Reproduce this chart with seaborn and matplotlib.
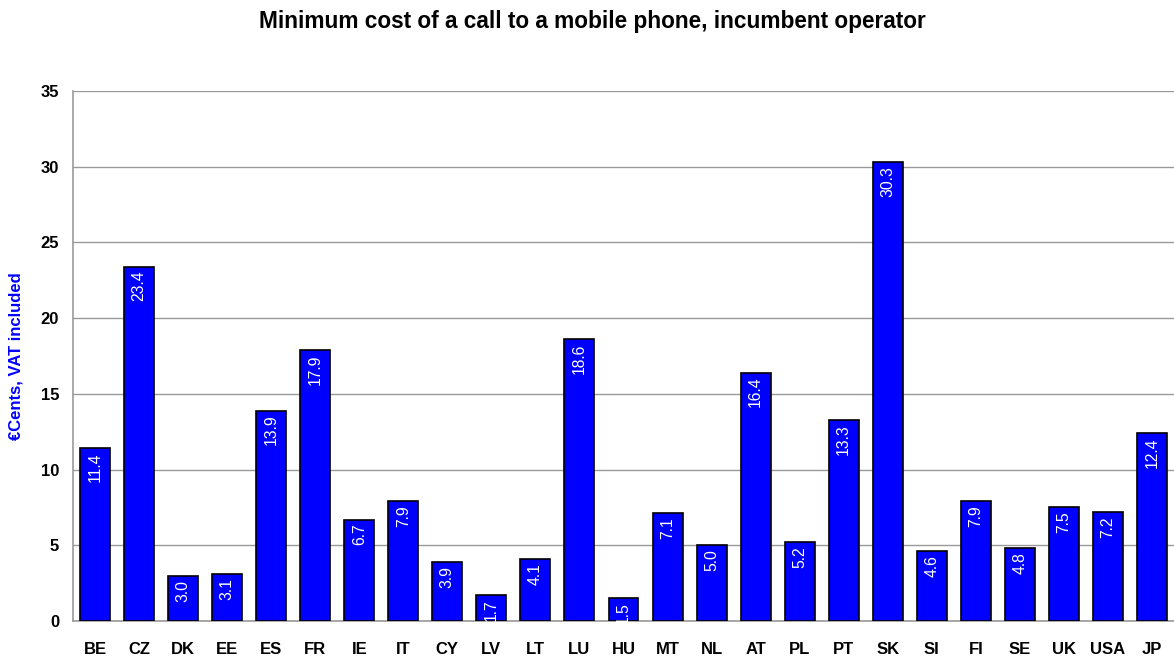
import matplotlib
matplotlib.use("Agg")
import matplotlib.pyplot as plt
import pandas as pd
import seaborn as sns

# Data
countries = ["BE", "CZ", "DK", "EE", "ES", "FR", "IE", "IT", "CY", "LV", "LT", "LU", "HU",
             "MT", "NL", "AT", "PL", "PT", "SK", "SI", "FI", "SE", "UK", "USA", "JP"]
cost = [11.4, 23.4, 3.0, 3.1, 13.9, 17.9, 6.7, 7.9, 3.9, 1.7, 4.1, 18.6, 1.5,
        7.1, 5.0, 16.4, 5.2, 13.3, 30.3, 4.6, 7.9, 4.8, 7.5, 7.2, 12.4]
y_ticks = [0, 5, 10, 15, 20, 25, 30, 35]

TITLE = "Minimum cost of a call to a mobile phone, incumbent operator"
Y_LABEL = "€Cents, VAT included"

sns.set_style("white")
plt.rcParams["font.family"] = ["Liberation Sans", "DejaVu Sans"]
plt.rcParams["text.color"] = "black"
plt.rcParams["xtick.color"] = "black"
plt.rcParams["ytick.color"] = "black"

df = pd.DataFrame({"country": countries, "cost": cost})

fig = plt.figure(figsize=(11.74, 6.57), dpi=100)
ax = fig.add_axes([73 / 1174, 36 / 657, 1 - 73 / 1174, (621 - 91) / 657])

sns.barplot(data=df, x="country", y="cost", color="#0000FF", saturation=1,
            edgecolor="black", linewidth=1.2, width=0.68, ax=ax, zorder=3)

ax.set_ylim(0, 35)
ax.set_xlim(-0.5, len(countries) - 0.5)
ax.set_yticks(y_ticks)
ax.yaxis.grid(True, color="#999999", linewidth=1, zorder=0)
ax.set_axisbelow(True)

for side in ["top", "right"]:
    ax.spines[side].set_visible(False)
for side in ["left", "bottom"]:
    ax.spines[side].set_color("#999999")
    ax.spines[side].set_linewidth(1.2)

ax.tick_params(axis="y", length=4, color="#999999", labelcolor="black", labelsize=12, pad=6)
ax.tick_params(axis="x", length=0, labelcolor="black", labelsize=12, pad=15)
for lbl in ax.get_xticklabels() + ax.get_yticklabels():
    lbl.set_fontweight("bold")

ax.set_xlabel("")
ax.set_ylabel(Y_LABEL, color="#0000FF", fontsize=12, fontweight="bold", labelpad=12)

# value labels inside the bars
for i, v in enumerate(cost):
    ax.annotate(f"{v:.1f}", xy=(i, v), xytext=(0, -3), textcoords="offset points",
                rotation=90, ha="center", va="top", color="white", fontsize=11.3)

fig.suptitle(TITLE, fontsize=16.3, fontweight="bold", color="black", x=0.505, y=0.985)

fig.savefig("out.png", dpi=100)
